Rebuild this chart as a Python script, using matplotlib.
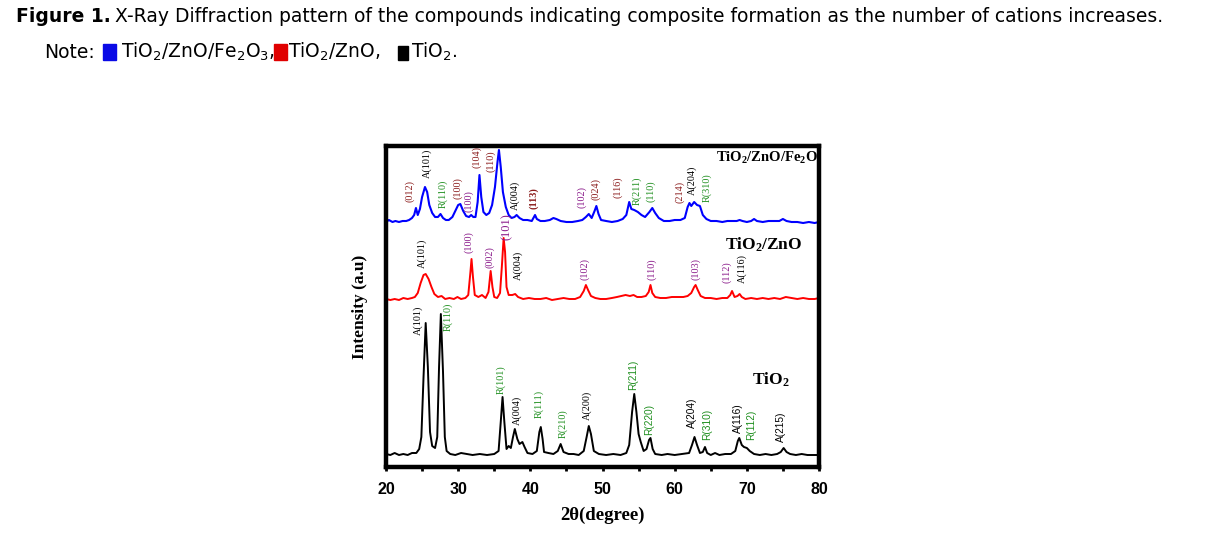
import numpy as np
import matplotlib.pyplot as plt
from matplotlib.patches import Rectangle

plt.rcParams['mathtext.default'] = 'regular'

# TiO2 (black)
tio2_x = [20.0, 20.6, 21.2, 21.8, 22.4, 23.0, 23.6, 24.2, 24.6, 24.9, 25.2, 25.5, 25.8, 26.1, 26.4, 26.8,
          27.1, 27.35, 27.6, 27.9, 28.15, 28.4, 28.9, 29.6, 30.4, 31.2, 32.0, 33.0, 34.0, 35.0, 35.6, 35.9,
          36.15, 36.4, 36.7, 37.0, 37.3, 37.6, 37.85, 38.2, 38.5, 38.9, 39.2, 39.6, 40.3, 40.9, 41.25, 41.45,
          41.7, 41.9, 42.5, 43.2, 43.8, 44.2, 44.6, 45.3, 46.0, 46.7, 47.4, 47.8, 48.1, 48.4, 48.8, 49.5,
          50.5, 51.5, 52.5, 53.3, 53.7, 54.1, 54.4, 54.7, 55.0, 55.3, 55.7, 56.1, 56.45, 56.65, 56.95, 57.3,
          58.2, 59.0, 60.0, 61.0, 62.0, 62.4, 62.75, 63.1, 63.5, 63.9, 64.2, 64.5, 65.0, 65.6, 66.2, 67.0,
          67.8, 68.4, 68.75, 68.95, 69.3, 69.6, 70.0, 70.4, 71.0, 71.8, 72.6, 73.4, 74.2, 74.7, 75.1, 75.5,
          76.0, 76.8, 77.6, 78.4, 79.2, 80.0]
tio2_y = [13, 12, 14, 12, 13, 12, 14, 14, 18, 30, 90, 144, 100, 35, 21, 19,
          30, 100, 153, 95, 30, 16, 13, 12, 14, 13, 12, 13, 12, 13, 16, 45,
          70, 45, 18, 21, 19, 30, 38, 28, 23, 25, 20, 14, 13, 16, 35, 40,
          28, 15, 14, 13, 16, 23, 15, 13, 13, 12, 16, 30, 41, 33, 16, 13,
          12, 13, 12, 14, 22, 55, 73, 55, 33, 25, 16, 18, 27, 29, 18, 13,
          12, 13, 12, 13, 14, 22, 30, 22, 14, 15, 20, 14, 12, 14, 12, 13,
          13, 16, 26, 29, 22, 20, 19, 16, 13, 12, 13, 12, 13, 15, 19, 15,
          13, 12, 13, 12, 12, 12]

# TiO2/ZnO (red)
tz_x = [20.0, 20.6, 21.2, 21.8, 22.4, 23.0, 23.6, 24.0, 24.4, 24.8, 25.2, 25.5, 25.9, 26.3, 26.7, 27.2,
        27.7, 28.2, 28.8, 29.4, 29.9, 30.4, 31.0, 31.4, 31.7, 31.85, 32.05, 32.3, 32.8, 33.3, 33.8, 34.2,
        34.5, 34.75, 35.0, 35.4, 35.8, 36.05, 36.3, 36.5, 36.7, 37.0, 37.5, 37.9, 38.3, 39.0, 39.8, 40.6,
        41.4, 42.2, 43.0, 43.8, 44.6, 45.4, 46.2, 46.9, 47.4, 47.7, 48.0, 48.4, 49.0, 49.7, 50.5, 51.3,
        52.0, 52.6, 53.2, 53.8, 54.3, 54.8, 55.4, 56.0, 56.4, 56.65, 56.9, 57.3, 58.0, 58.8, 59.6, 60.4,
        61.2, 61.8, 62.3, 62.7, 62.9, 63.2, 63.6, 64.2, 65.0, 65.8, 66.6, 67.3, 67.7, 67.95, 68.3, 68.7,
        69.0, 69.3, 69.8, 70.6, 71.4, 72.2, 73.0, 73.8, 74.6, 75.4, 76.2, 77.0, 77.8, 78.6, 79.4, 80.0]
tz_y = [168, 167, 168, 167, 169, 168, 169, 170, 174, 184, 192, 193, 188, 180, 173, 170,
        171, 168, 169, 168, 170, 168, 169, 172, 195, 208, 190, 172, 170, 172, 169, 175,
        196, 180, 170, 169, 174, 200, 229, 215, 180, 172, 172, 173, 170, 168, 169, 168,
        168, 169, 167, 168, 169, 168, 168, 170, 176, 182, 177, 171, 169, 168, 168, 169,
        170, 171, 172, 171, 172, 170, 170, 171, 175, 182, 174, 170, 169, 169, 170, 170,
        170, 171, 174, 180, 182, 177, 171, 169, 169, 168, 169, 169, 172, 176, 170, 171,
        173, 170, 168, 169, 168, 169, 168, 169, 168, 170, 169, 168, 169, 168, 168, 169]

# TiO2/ZnO/Fe2O3 (blue)
tzf_x = [20.0, 20.4, 20.9, 21.3, 21.8, 22.3, 22.8, 23.2, 23.6, 23.9, 24.15, 24.4, 24.7, 25.0, 25.4, 25.7,
         26.0, 26.4, 26.8, 27.2, 27.55, 27.9, 28.3, 28.7, 29.2, 29.6, 30.0, 30.3, 30.7, 31.1, 31.5, 31.8,
         32.1, 32.4, 32.7, 32.95, 33.2, 33.5, 33.9, 34.3, 34.7, 35.1, 35.45, 35.65, 35.9, 36.2, 36.6, 37.0,
         37.4, 37.8, 38.1, 38.5, 39.0, 39.6, 40.2, 40.5, 40.65, 40.9, 41.4, 42.0, 42.7, 43.2, 43.6, 44.2,
         45.0, 45.8, 46.6, 47.2, 47.7, 48.1, 48.5, 48.9, 49.15, 49.45, 49.8, 50.5, 51.3, 52.1, 52.8, 53.3,
         53.7, 54.0, 54.4, 54.9, 55.4, 55.9, 56.5, 56.9, 57.3, 57.8, 58.5, 59.3, 60.0, 60.8, 61.4, 61.8,
         62.05, 62.3, 62.7, 63.1, 63.5, 63.9, 64.4, 65.0, 65.8, 66.6, 67.3, 68.0, 68.6, 69.0, 69.4, 70.0,
         70.6, 71.0, 71.4, 72.2, 73.0, 73.8, 74.5, 75.0, 75.5, 76.2, 77.0, 77.8, 78.6, 79.4, 80.0]
tzf_y = [245, 247, 245, 246, 245, 246, 246, 247, 249, 252, 259, 252, 258, 270, 280, 275,
         262, 254, 250, 250, 253, 249, 247, 247, 250, 256, 262, 263, 256, 251, 250, 252,
         250, 250, 265, 292, 270, 255, 252, 254, 262, 280, 305, 317, 300, 275, 260, 252,
         249, 250, 252, 249, 247, 247, 246, 250, 252, 248, 246, 246, 247, 249, 248, 246,
         245, 245, 246, 247, 250, 253, 249, 256, 261, 253, 247, 246, 245, 246, 248, 252,
         265, 258, 257, 255, 252, 250, 255, 259, 254, 249, 246, 246, 247, 247, 249, 260,
         264, 261, 265, 262, 261, 252, 248, 246, 246, 245, 246, 246, 246, 247, 246, 245,
         246, 248, 246, 245, 246, 246, 246, 248, 246, 245, 245, 244, 245, 244, 245]

BROWN = '#8b1c1c'
PURPLE = '#8a1a8a'
GREEN = '#1f8f1f'
SERIF = 'Liberation Serif'
SANS = 'Liberation Sans'

# peak labels: text, 2theta, intensity, colour, family
tzf_labels = [('(012)', 23.3, 265, BROWN, SERIF), ('A(101)', 25.7, 289, 'black', SERIF),
              ('R(110)', 27.9, 259, GREEN, SERIF), ('(100)', 30.0, 268, BROWN, SERIF),
              ('(100)', 31.4, 255, PURPLE, SERIF), ('(104)', 32.6, 299, BROWN, SERIF),
              ('(110)', 34.5, 295, BROWN, SERIF), ('A(004)', 37.9, 257, 'black', SERIF),
              ('(113)', 40.5, 258, BROWN, SERIF), ('(102)', 47.1, 259, PURPLE, SERIF),
              ('(024)', 49.1, 267, BROWN, SERIF), ('(116)', 52.1, 269, BROWN, SERIF),
              ('R(211)', 54.8, 262, GREEN, SERIF), ('(110)', 56.7, 265, GREEN, SERIF),
              ('(214)', 60.7, 264, BROWN, SERIF), ('A(204)', 62.4, 272, 'black', SERIF),
              ('R(310)', 64.5, 265, GREEN, SERIF)]
tz_labels = [('A(101)', 25.0, 199, 'black', SERIF), ('(100)', 31.5, 214, PURPLE, SERIF),
             ('(002)', 34.4, 199, PURPLE, SERIF), ('(101)', 36.8, 227, PURPLE, SERIF),
             ('A(004)', 38.3, 187, 'black', SERIF), ('(102)', 47.6, 187, PURPLE, SERIF),
             ('(110)', 56.8, 187, PURPLE, SERIF), ('(103)', 62.9, 187, PURPLE, SERIF),
             ('(112)', 67.2, 184, PURPLE, SERIF), ('A(116)', 69.4, 184, 'black', SERIF)]
tio2_labels = [('A(101)', 24.4, 132, 'black', SERIF), ('R(110)', 28.6, 136, GREEN, SERIF),
               ('R(101)', 35.9, 73, GREEN, SERIF), ('A(004)', 38.1, 42, 'black', SERIF),
               ('R(111)', 41.2, 49, GREEN, SERIF), ('R(210)', 44.5, 29, GREEN, SERIF),
               ('A(200)', 47.8, 47, 'black', SERIF), ('R(211)', 54.2, 77, GREEN, SANS),
               ('R(220)', 56.4, 32, GREEN, SANS), ('A(204)', 62.4, 39, 'black', SANS),
               ('R(310)', 64.5, 27, GREEN, SANS), ('A(116)', 68.8, 34, 'black', SANS),
               ('R(112)', 70.6, 27, GREEN, SANS), ('A(215)', 74.8, 25, 'black', SANS)]

W, H = 1212, 548
fig = plt.figure(figsize=(W / 100, H / 100), dpi=100)

# caption
cap = 13.5
fig.text(16 / W, 1 - 16 / H, 'Figure 1.', fontsize=cap, fontweight='bold', va='center')
fig.text(115 / W, 1 - 16 / H, 'X-Ray Diffraction pattern of the compounds indicating composite formation '
         'as the number of cations increases.', fontsize=cap, va='center')
fig.text(44 / W, 1 - 52 / H, 'Note:', fontsize=cap, va='center')
fig.add_artist(Rectangle((103 / W, 1 - 60 / H), 13 / W, 16 / H, transform=fig.transFigure, color='#0a0ae6'))
fig.text(121 / W, 1 - 52 / H, 'TiO$_2$/ZnO/Fe$_2$O$_3$,', fontsize=cap, va='center')
fig.add_artist(Rectangle((274 / W, 1 - 60 / H), 13 / W, 16 / H, transform=fig.transFigure, color='#e00000'))
fig.text(288 / W, 1 - 52 / H, 'TiO$_2$/ZnO,', fontsize=cap, va='center')
fig.add_artist(Rectangle((398 / W, 1 - 60 / H), 10 / W, 14 / H, transform=fig.transFigure, color='black'))
fig.text(411 / W, 1 - 52 / H, 'TiO$_2$.', fontsize=cap, va='center')

ax = fig.add_axes([386 / W, 1 - 467 / H, (819 - 386) / W, (467 - 146) / H])
ax.plot(tio2_x, tio2_y, color='black', lw=1.4)
ax.plot(tz_x, tz_y, color='red', lw=1.4)
ax.plot(tzf_x, tzf_y, color='blue', lw=1.5)

for labels in (tzf_labels, tz_labels, tio2_labels):
    for t, x, y, c, fam in labels:
        size = 9 if (t == '(101)' and c == PURPLE) else 7.3
        weight = 'bold' if t == '(113)' else 'normal'
        ax.text(x, y, t, rotation=90, ha='center', va='bottom', fontsize=size,
                color=c, family=fam, fontweight=weight)

ax.text(79.9, 309, 'TiO$_2$/ZnO/Fe$_2$O', ha='right', va='center', fontsize=10.5,
        family=SERIF, fontweight='bold')
ax.text(72.35, 222, 'TiO$_2$/ZnO', ha='center', va='center', fontsize=12.5,
        family=SERIF, fontweight='bold')
ax.text(73.3, 87, 'TiO$_2$', ha='center', va='center', fontsize=12.5,
        family=SERIF, fontweight='bold')

ax.set_xlim(20, 80)
ax.set_ylim(0, 321)
ax.set_yticks([])
ax.set_xticks(np.arange(20, 81, 10))
ax.set_xticks(np.arange(25, 80, 10), minor=True)
ax.tick_params(axis='x', which='both', direction='out', length=3, width=2, labelsize=11.5, pad=8)
for lbl in ax.get_xticklabels():
    lbl.set_fontweight('bold')
    lbl.set_family(SANS)
for s in ax.spines.values():
    s.set_linewidth(3.2)

ax.set_xlabel('2θ(degree)', fontsize=13.5, family=SERIF, fontweight='bold', labelpad=7)
ax.set_ylabel('Intensity (a.u)', fontsize=12.5, family=SERIF, fontweight='bold', labelpad=13)

fig.savefig('out.png', dpi=100)
